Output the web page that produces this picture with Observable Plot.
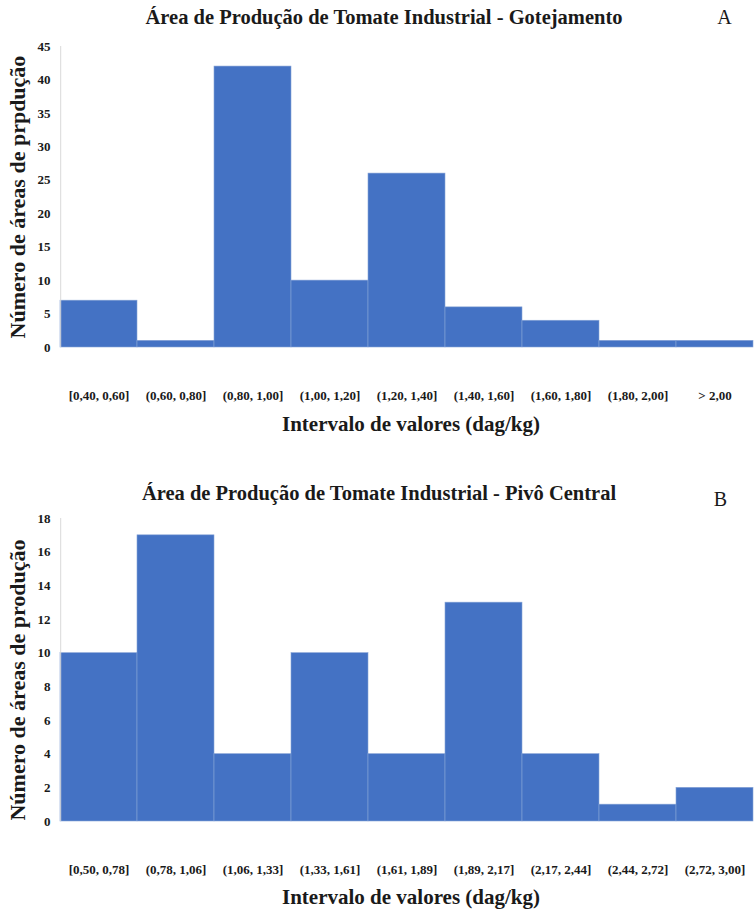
<!DOCTYPE html>
<html>
<head>
<meta charset="utf-8">
<script src="https://cdn.jsdelivr.net/npm/d3@7"></script>
<script src="https://cdn.jsdelivr.net/npm/@observablehq/plot@0.6"></script>
<style>
  html, body { margin: 0; padding: 0; background: #fff; }
  #chart svg { display: block; }
</style>
</head>
<body>
<div id="chart"></div>
<script>
// Panel A data
const binsA = ["[0,40, 0,60]", "(0,60, 0,80]", "(0,80, 1,00]", "(1,00, 1,20]", "(1,20, 1,40]", "(1,40, 1,60]", "(1,60, 1,80]", "(1,80, 2,00]", "> 2,00"];
const countsA = [7, 1, 42, 10, 26, 6, 4, 1, 1];
const yTicksA = [0, 5, 10, 15, 20, 25, 30, 35, 40, 45];
const titleA = "Área de Produção de Tomate Industrial - Gotejamento";
const yLabelA = "Número de áreas de prpdução";

// Panel B data
const binsB = ["[0,50, 0,78]", "(0,78, 1,06]", "(1,06, 1,33]", "(1,33, 1,61]", "(1,61, 1,89]", "(1,89, 2,17]", "(2,17, 2,44]", "(2,44, 2,72]", "(2,72, 3,00]"];
const countsB = [10, 17, 4, 10, 4, 13, 4, 1, 2];
const yTicksB = [0, 2, 4, 6, 8, 10, 12, 14, 16, 18];
const titleB = "Área de Produção de Tomate Industrial - Pivô Central";
const yLabelB = "Número de áreas de produção";

const xLabel = "Intervalo de valores (dag/kg)";
const FONT = "Liberation Serif";

function panel({bins, counts, yTicks, title, yLabel, letter, marginTop, marginBottom, titleDy, titleDx, letterDx, letterDy, xTickPad, xTitleDy, yTitleDy}) {
  const data = bins.map((b, i) => ({bin: b, n: counts[i]}));
  const yMax = yTicks[yTicks.length - 1];
  return Plot.plot({
    width: 754,
    height: 455,
    marginLeft: 60,
    marginRight: 1,
    marginTop,
    marginBottom,
    style: {fontFamily: FONT, color: "#1a1a1a", background: "#fff", overflow: "visible"},
    x: {domain: bins, padding: 0, axis: null},
    y: {domain: [0, yMax], axis: null},
    marks: [
      Plot.barY(data, {x: "bin", y: "n", fill: "#4472C4", stroke: "#86a3d6", strokeWidth: 0.6}),
      Plot.ruleX([bins[0]], {y1: 0, y2: yMax, dx: -38.3, stroke: "#d9d9d9", strokeWidth: 1}),
      Plot.axisY({ticks: yTicks, tickSize: 0, tickPadding: 10, fontSize: 13, fontWeight: "bold", fontFamily: FONT, label: null}),
      Plot.axisX({tickSize: 0, tickPadding: xTickPad, fontSize: 13, fontWeight: "bold", fontFamily: FONT, label: null}),
      Plot.text([title], {frameAnchor: "top", lineAnchor: "middle", dy: titleDy, dx: titleDx, fontSize: 20.5, fontWeight: "bold", fontFamily: FONT}),
      Plot.text([letter], {frameAnchor: "top-right", lineAnchor: "middle", textAnchor: "middle", dx: letterDx, dy: letterDy, fontSize: 20, fontFamily: FONT}),
      Plot.text([xLabel], {frameAnchor: "bottom", lineAnchor: "middle", dy: xTitleDy, dx: 4, fontSize: 21, fontWeight: "bold", fontFamily: FONT}),
      Plot.text([yLabel], {frameAnchor: "left", textAnchor: "middle", lineAnchor: "middle", rotate: -90, dx: -43, dy: yTitleDy, fontSize: 22, fontWeight: "bold", fontFamily: FONT})
    ]
  });
}

const root = document.getElementById("chart");
root.append(panel({
  bins: binsA, counts: countsA, yTicks: yTicksA, title: titleA, yLabel: yLabelA, letter: "A",
  marginTop: 46, marginBottom: 108, titleDy: -29, titleDx: -23, letterDx: -29, letterDy: -29, xTickPad: 43, xTitleDy: 77, yTitleDy: 0
}));
root.append(panel({
  bins: binsB, counts: countsB, yTicks: yTicksB, title: titleB, yLabel: yLabelB, letter: "B",
  marginTop: 63, marginBottom: 89, titleDy: -25, titleDx: -28, letterDx: -33, letterDy: -19, xTickPad: 43, xTitleDy: 76, yTitleDy: 10
}));
</script>
</body>
</html>
